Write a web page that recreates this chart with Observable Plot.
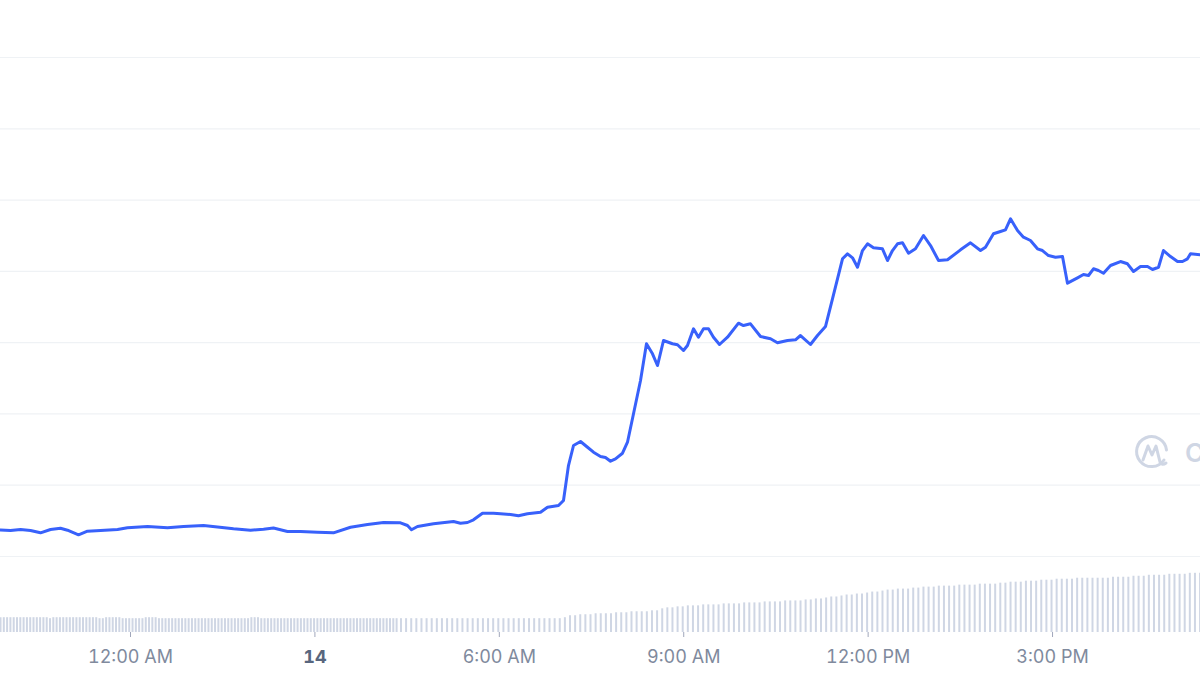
<!DOCTYPE html>
<html>
<head>
<meta charset="utf-8">
<script src="https://cdn.jsdelivr.net/npm/d3@7"></script>
<script src="https://cdn.jsdelivr.net/npm/@observablehq/plot@0.6"></script>
<style>
  html, body { margin: 0; padding: 0; background: #ffffff; }
  #wrap { position: relative; width: 1200px; height: 675px; overflow: hidden; font-family: Inter, "Noto Sans", sans-serif; }
  #wrap > svg { position: absolute; left: 0; top: 0; }
  #wrap > #mark { position: absolute; left: 1133px; top: 433px; display: flex; align-items: center; gap: 14px; color: #cfd6e4; font-size: 26px; font-weight: 600; white-space: nowrap; }
</style>
</head>
<body>
<div id="wrap"></div>
<script>
// ---- data (hours relative to the "12:00 AM" tick) ----
const xDomain = [-2.115, 17.407];
const gridLevels = [0, 1, 2, 3, 4, 5, 6, 7];

const hours = [
  -2.115, -1.952, -1.789, -1.627, -1.464, -1.301, -1.139, -1.025, -0.846, -0.700,
  -0.488, -0.211, -0.049, 0.277, 0.602, 0.862, 1.188, 1.415, 1.676, 1.952,
  2.164, 2.326, 2.554, 2.766, 3.042, 3.302, 3.579, 3.856, 4.116, 4.392,
  4.506, 4.571, 4.669, 4.929, 5.255, 5.368, 5.482, 5.580, 5.726, 5.905,
  6.019, 6.182, 6.312, 6.458, 6.670, 6.784, 6.963, 7.044, 7.125, 7.207,
  7.321, 7.435, 7.532, 7.646, 7.727, 7.809, 7.890, 8.004, 8.085, 8.183,
  8.297, 8.394, 8.492, 8.573, 8.671, 8.817, 8.899, 8.996, 9.061, 9.159,
  9.240, 9.322, 9.403, 9.484, 9.582, 9.712, 9.891, 9.972, 10.086, 10.249,
  10.412, 10.525, 10.688, 10.818, 10.900, 11.062, 11.176, 11.306, 11.420, 11.583,
  11.664, 11.746, 11.827, 11.908, 11.990, 12.087, 12.233, 12.315, 12.396, 12.478,
  12.559, 12.657, 12.770, 12.901, 13.015, 13.145, 13.291, 13.503, 13.665, 13.828,
  13.909, 14.039, 14.153, 14.234, 14.316, 14.430, 14.527, 14.641, 14.755, 14.836,
  14.934, 15.048, 15.162, 15.243, 15.406, 15.503, 15.585, 15.666, 15.747, 15.829,
  15.943, 16.105, 16.219, 16.317, 16.431, 16.545, 16.626, 16.724, 16.805, 16.919,
  17.033, 17.114, 17.195, 17.244, 17.407
];

const price = [
  0.372, 0.365, 0.379, 0.365, 0.332, 0.379, 0.397, 0.369, 0.304, 0.355,
  0.365, 0.379, 0.403, 0.421, 0.403, 0.421, 0.435, 0.414, 0.389, 0.369,
  0.383, 0.400, 0.351, 0.351, 0.341, 0.332, 0.411, 0.449, 0.477, 0.473,
  0.435, 0.375, 0.421, 0.459, 0.491, 0.467, 0.477, 0.515, 0.607, 0.607,
  0.599, 0.589, 0.571, 0.599, 0.621, 0.692, 0.715, 0.786, 1.276, 1.557,
  1.613, 1.533, 1.463, 1.403, 1.389, 1.337, 1.370, 1.449, 1.603, 2.002,
  2.469, 2.984, 2.843, 2.679, 3.030, 2.984, 2.970, 2.890, 2.960, 3.194,
  3.076, 3.194, 3.194, 3.076, 2.974, 3.076, 3.273, 3.240, 3.264, 3.086,
  3.054, 2.998, 3.030, 3.040, 3.100, 2.974, 3.100, 3.226, 3.615, 4.176,
  4.246, 4.190, 4.058, 4.292, 4.386, 4.330, 4.316, 4.152, 4.292, 4.386,
  4.400, 4.254, 4.316, 4.503, 4.362, 4.152, 4.162, 4.302, 4.400, 4.292,
  4.339, 4.527, 4.559, 4.583, 4.737, 4.573, 4.479, 4.433, 4.316, 4.292,
  4.222, 4.198, 4.208, 3.834, 3.909, 3.956, 3.942, 4.036, 4.012, 3.974,
  4.082, 4.138, 4.106, 3.998, 4.068, 4.068, 4.026, 4.058, 4.292, 4.208,
  4.138, 4.138, 4.176, 4.246, 4.232
];

// volume bars: early part at ~3.2-minute steps, later part at 5-minute steps
const volDenseStart = -2.115, volDenseStep = 0.0537;
const volDense = [
  15,15,15,15,15,15,15,15,15,15,
  15,15,15,15,15,14,15,15,15,15,
  15,15,15,15,15,15,15,15,15,15,
  14,14,15,15,15,15,15,14,14,14,
  14,14,14,14,15,15,15,15,14,14,
  14,14,14,14,14,14,14,14,14,14,
  14,14,14,14,14,14,14,14,14,14,
  14,14,14,14,14,14,15,15,15,14,
  14,14,14,14,14,14,14,14,14,14,
  14,14,14,14,14,14,14,14,14,14,
  14,14,14,14,14,14,14,14,14,14,
  14,14,14,14,14,14,14,14,14,14,
  14
];
const volSparseStart = 4.40, volSparseStep = 5 / 60;
const volSparse = [
  14,14,14,14,14,14,14,14,14,14, 14,14,14,14,14,14,14,14,14,14,
  14,14,14,14,14,14,14,14,14,14, 14,14,
  15,
  17,17,
  18,18,18,19,19,19,
  19,20,20,20,21,21,21,21,
  22,22,
  24,25,25,
  26,26,27,27,27,28,28,
  28,28,29,29,29,29,30,30,30,30,
  31,31,31,31,32,32,32,32,
  33,33,34,34,
  35,36,36,37,
  38,38,39,39,
  40,41,41,42,
  43,43,44,44,44,
  45,45,46,46,46,47,47,47,
  47,48,48,48,48,49,49,49,49,50,50,
  51,51,51,52,52,52,53,53,53,
  54,54,54,54,55,55,55,55,55,55,
  55,56,56,56,56,57,57,57,
  58,58,58,58,59,59,59,59,60,60,60
];
const volMax = 76;

const tickHours = [0, 3, 6, 9, 12, 15];
const tickLabels = ["12:00 AM", "14", "6:00 AM", "9:00 AM", "12:00 PM", "3:00 PM"];
const boldLabels = ["14"];

// ---- build tables ----
const series = hours.map((h, i) => ({h, p: price[i]}));
const volume = [
  ...volDense.map((v, i) => ({h: volDenseStart + i * volDenseStep, v})),
  ...volSparse.map((v, i) => ({h: volSparseStart + i * volSparseStep, v}))
].filter(d => d.h <= xDomain[1]);
const labelOf = h => tickLabels[tickHours.indexOf(h)];
const normalTicks = tickHours.filter(h => !boldLabels.includes(labelOf(h)));
const boldTicks = tickHours.filter(h => boldLabels.includes(labelOf(h)));

const W = 1200, H = 675;
const wrap = document.getElementById("wrap");

// price layer
const pricePlot = Plot.plot({
  width: W, height: H,
  marginTop: 0, marginRight: 0, marginBottom: 0, marginLeft: 0,
  style: {background: "transparent", overflow: "visible"},
  x: {domain: xDomain, axis: null},
  y: {domain: [0, 7], range: [556, 57], axis: null},
  marks: [
    Plot.ruleY(gridLevels, {stroke: "#eff2f5", strokeWidth: 1.2}),
    Plot.line(series, {x: "h", y: "p", stroke: "#3861fb", strokeWidth: 3, strokeLinejoin: "round", strokeLinecap: "round"})
  ]
});

// volume + axis layer
const volPlot = Plot.plot({
  width: W, height: H,
  marginTop: 557, marginRight: 0, marginBottom: 43, marginLeft: 0,
  style: {background: "transparent", overflow: "visible", fontFamily: "Inter, 'Noto Sans', sans-serif"},
  x: {domain: xDomain, label: null},
  y: {domain: [0, volMax], axis: null},
  marks: [
    Plot.ruleX(volume, {x: "h", y1: 0, y2: "v", stroke: "#cfd6e4", strokeWidth: 2}),
    Plot.axisX(normalTicks, {tickFormat: labelOf, tickSize: 5, tickPadding: 13, fontSize: 18, stroke: "#a1a7bb", fill: "#808a9d", label: null}),
    Plot.axisX(boldTicks, {tickFormat: labelOf, tickSize: 5, tickPadding: 13, fontSize: 18, fontWeight: "bold", stroke: "#a1a7bb", fill: "#58667e", label: null})
  ]
});

wrap.appendChild(pricePlot);
wrap.appendChild(volPlot);

// CoinMarketCap-style watermark
const mark = document.createElement("div");
mark.id = "mark";
mark.innerHTML = '<svg width="38" height="38" viewBox="0 0 38 38">' +
  '<path d="M31 27 A15 15 0 1 1 33.5 17" fill="none" stroke="#cfd6e4" stroke-width="3" stroke-linecap="round"/>' +
  '<path d="M10 27 L15 13 L19 22 L23 13 L27 29 Q29 33 33 30" fill="none" stroke="#cfd6e4" stroke-width="3" stroke-linejoin="round" stroke-linecap="round"/>' +
  '</svg><span>CoinMarketCap</span>';
wrap.appendChild(mark);
</script>
</body>
</html>
